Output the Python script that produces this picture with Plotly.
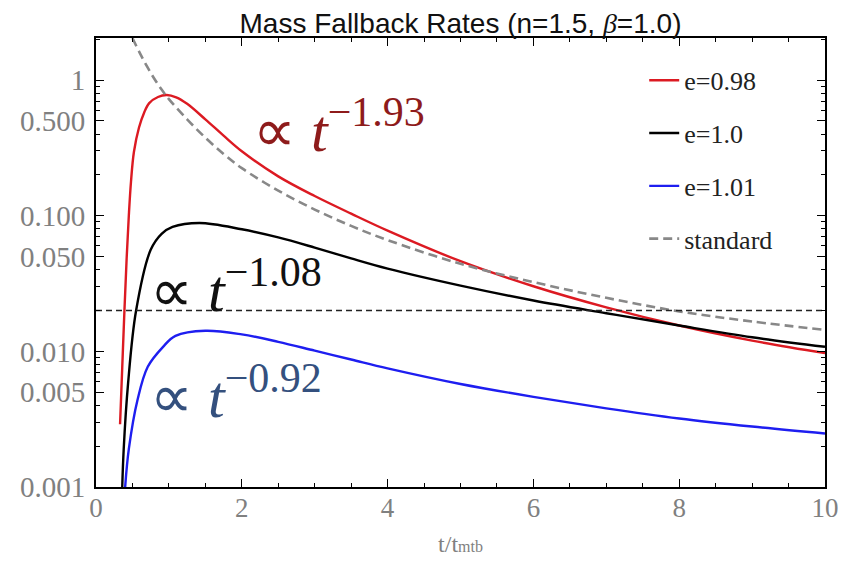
import plotly.graph_objects as go

# ---- data ----
t_red = [0.33, 0.36, 0.39, 0.42, 0.45, 0.48, 0.52, 0.59, 0.66, 0.73, 0.85, 0.97, 1.1, 1.25,
         1.5, 1.75, 2.0, 2.5, 3.0, 3.5, 4.0, 5.0, 6.0, 7.0, 8.0, 9.0, 10.0]
y_red = [0.0029, 0.0076, 0.020, 0.048, 0.100, 0.178, 0.295, 0.447, 0.575, 0.676, 0.750, 0.775,
         0.745, 0.668, 0.513, 0.389, 0.2985, 0.195, 0.1396, 0.1035, 0.0776, 0.0462, 0.0302,
         0.0211, 0.0155, 0.0120, 0.0097]

t_black = [0.36, 0.38, 0.44, 0.55, 0.75, 0.90, 1.05, 1.42, 2.0, 2.5, 3.0, 3.5, 4.0, 5.0, 6.0,
           7.0, 8.0, 9.0, 10.0]
y_black = [0.001, 0.0019, 0.0058, 0.020, 0.056, 0.0735, 0.0826, 0.0883, 0.0794, 0.0692, 0.0582,
           0.0484, 0.0407, 0.0305, 0.0237, 0.0191, 0.0155, 0.0127, 0.0108]

t_blue = [0.40, 0.45, 0.57, 0.71, 0.92, 1.09, 1.5, 2.0, 2.5, 3.0, 3.5, 4.0, 5.0, 6.0, 7.0, 8.0,
          9.0, 10.0]
y_blue = [0.001, 0.0019, 0.0044, 0.0077, 0.0108, 0.0130, 0.01419, 0.01334, 0.01175, 0.01012,
          0.00871, 0.0075, 0.00575, 0.00462, 0.0038, 0.0032, 0.00279, 0.00248]

t_std = [0.5, 0.6, 0.7, 0.8, 0.9, 1.0, 1.25, 1.5, 1.75, 2.0, 2.5, 3.0, 3.5, 4.0, 5.0, 6.0, 7.0,
         8.0, 9.0, 10.0]
y_std = [2.04, 1.585, 1.259, 1.023, 0.851, 0.724, 0.513, 0.376, 0.285, 0.224, 0.153, 0.111,
         0.0841, 0.0661, 0.0442, 0.0324, 0.0248, 0.0197, 0.0166, 0.0144]

t_ref = [0.0, 10.0]
y_ref = [0.02, 0.02]

x_ticks = [0, 2, 4, 6, 8, 10]
y_ticks = [0.001, 0.005, 0.01, 0.05, 0.1, 0.5, 1]
y_tick_text = ["0.001", "0.005", "0.010", "0.050", "0.100", "0.500", "1"]
y_minor = [m * 10.0 ** d for d in (-3, -2, -1, 0) for m in range(2, 10)]

labels = ["e=0.98", "e=1.0", "e=1.01", "standard"]

SERIF = "Liberation Serif"
GREY = "#808080"
SM = 1.0

fig = go.Figure()
fig.add_trace(go.Scatter(x=t_red, y=y_red, mode="lines", name=labels[0], legendgroup="a",
                         line=dict(color="#DC1A22", width=2.4, shape="spline", smoothing=SM)))
fig.add_trace(go.Scatter(x=t_black, y=y_black, mode="lines", name=labels[1], legendgroup="b",
                         line=dict(color="#000000", width=2.4, shape="spline", smoothing=SM)))
fig.add_trace(go.Scatter(x=t_blue, y=y_blue, mode="lines", name=labels[2], legendgroup="c",
                         line=dict(color="#1E1EF0", width=2.4, shape="spline", smoothing=SM)))
fig.add_trace(go.Scatter(x=t_std, y=y_std, mode="lines", name=labels[3], legendgroup="d",
                         line=dict(color="#888888", width=2.6, dash="9px,5px", shape="spline",
                                   smoothing=SM)))
fig.add_trace(go.Scatter(x=t_ref, y=y_ref, mode="lines", showlegend=False,
                         line=dict(color="#222222", width=1.4, dash="6px,4px")))

ann_font = dict(family=SERIF, size=60)
fig.add_annotation(x=2.12, y=-0.34, xref="x", yref="y", xanchor="left", yanchor="middle",
                   text="∝ <i>t</i><sup>−1.93</sup>", showarrow=False,
                   font=dict(ann_font, color="#8E1B1B"))
fig.add_annotation(x=0.72, y=-1.52, xref="x", yref="y", xanchor="left", yanchor="middle",
                   text="∝ <i>t</i><sup>−1.08</sup>", showarrow=False,
                   font=dict(ann_font, color="#111111"))
fig.add_annotation(x=0.72, y=-2.30, xref="x", yref="y", xanchor="left", yanchor="middle",
                   text="∝ <i>t</i><sup>−0.92</sup>", showarrow=False,
                   font=dict(ann_font, color="#34507E"))

fig.update_layout(
    width=850, height=566,
    margin=dict(l=85, r=33, t=30, b=87),
    paper_bgcolor="white", plot_bgcolor="white",
    title=dict(text="Mass Fallback Rates (n=1.5, <span style='font-family:Liberation Serif'><i>β</i></span>=1.0)",
               x=0.5, xref="paper", y=0.974, yref="container", yanchor="middle",
               font=dict(family="Liberation Sans", size=28, color="#111111")),
    legend=dict(x=0.752, y=0.958, xanchor="left", yanchor="top", bgcolor="rgba(0,0,0,0)",
                font=dict(family=SERIF, size=26, color="#222222"), tracegroupgap=16),
    showlegend=True,
)

fig.update_xaxes(range=[0, 10], tickvals=x_ticks, ticks="inside", ticklen=8, tickwidth=1,
                 tickcolor="black", showline=True, linecolor="black", linewidth=1.8,
                 mirror="ticks", showgrid=False, zeroline=False,
                 tickfont=dict(family=SERIF, size=27, color=GREY), ticklabelstandoff=-4,
                 minor=dict(dtick=0.5, ticks="inside", ticklen=4, tickwidth=1, tickcolor="black",
                            showgrid=False),
                 title=dict(text="t/t<span style='font-size:16px'>mtb</span>", standoff=13,
                            font=dict(family=SERIF, size=24, color=GREY)))
fig.update_yaxes(type="log", range=[-3, 0.31], tickvals=y_ticks, ticktext=y_tick_text,
                 ticks="inside", ticklen=8, tickwidth=1, tickcolor="black", showline=True,
                 linecolor="black", linewidth=1.8, mirror="ticks", showgrid=False,
                 zeroline=False, tickfont=dict(family=SERIF, size=29, color=GREY),
                 ticklabelstandoff=3,
                 minor=dict(tickmode="array", tickvals=y_minor, ticks="inside", ticklen=4,
                            tickwidth=1, tickcolor="black", showgrid=False))

fig.write_html("out.html")
